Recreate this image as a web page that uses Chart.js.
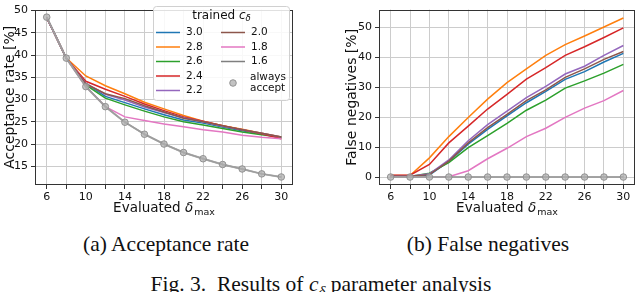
<!DOCTYPE html>
<html>
<head>
<meta charset="utf-8">
<script src="https://cdn.jsdelivr.net/npm/chart.js@4.4.1/dist/chart.umd.min.js"></script>
<style>
  body { margin: 0; background: #fff; }
  #wrap { position: relative; width: 640px; height: 292px; overflow: hidden; }
  canvas { position: absolute; top: 0; }
  .cap { position: absolute; font-family: "Liberation Serif", "Times New Roman", serif; font-size: 21.5px; color: #111; white-space: nowrap; transform: translateX(-50%); }
  sub { font-size: 70%; line-height: 0; }
</style>
</head>
<body>
<div id="wrap">
  <canvas id="acc" width="320" height="215" style="left:0"></canvas>
  <canvas id="fneg" width="320" height="215" style="left:320px"></canvas>
  <div class="cap" style="left:166px; top:232px">(a) Acceptance rate</div>
  <div class="cap" style="left:488px; top:232px">(b) False negatives</div>
  <div class="cap" style="left:321px; top:272px">Fig. 3.&nbsp; Results of <i>c</i><sub><i>δ</i></sub> parameter analysis</div>
</div>
<script>
const deltaMax = [6, 8, 10, 12, 14, 16, 18, 20, 22, 24, 26, 28, 30];
const cDelta = ['3.0', '2.8', '2.6', '2.4', '2.2', '2.0', '1.8', '1.6'];
const colors = ['#1f77b4', '#ff7f0e', '#2ca02c', '#d62728', '#9467bd', '#8c564b', '#e377c2', '#7f7f7f'];

// acceptance rate [%], one array per trained c_delta
const acc30 = [48.4, 39.3, 33.6, 30.7, 29.3, 27.9, 26.6, 25.4, 24.7, 23.8, 23.0, 22.3, 21.5];
const acc28 = [48.4, 39.3, 35.3, 33.1, 31.3, 29.4, 27.9, 26.4, 25.1, 24.1, 23.3, 22.4, 21.6];
const acc26 = [48.4, 39.3, 33.3, 30.3, 28.8, 27.4, 26.1, 25.0, 24.3, 23.5, 22.7, 22.1, 21.5];
const acc24 = [48.4, 39.3, 34.1, 32.3, 30.7, 29.0, 27.5, 26.1, 25.1, 24.1, 23.2, 22.3, 21.2];
const acc22 = [48.4, 39.3, 33.6, 31.2, 29.9, 28.3, 27.1, 25.9, 25.0, 24.0, 23.2, 22.4, 21.6];
const acc20 = [48.4, 39.3, 33.5, 31.3, 30.2, 28.6, 27.2, 25.8, 25.0, 24.1, 23.2, 22.4, 21.6];
const acc18 = [48.4, 39.3, 32.9, 28.4, 26.1, 25.3, 24.5, 23.9, 23.2, 22.7, 22.0, 21.5, 21.2];
const acc16 = [48.5, 39.3, 32.9, 28.4, 24.9, 22.2, 20.0, 18.1, 16.7, 15.4, 14.4, 13.3, 12.6];
const accAlways = [48.5, 39.3, 32.9, 28.4, 24.9, 22.2, 20.0, 18.1, 16.7, 15.4, 14.4, 13.3, 12.6];

// false negatives [%]
const fn30 = [0.2, 0.2, 0.7, 5.2, 11.0, 15.9, 20.4, 24.8, 28.6, 32.6, 35.2, 38.4, 41.3];
const fn28 = [0.5, 0.5, 6.4, 13.5, 19.9, 26.0, 31.5, 36.1, 40.6, 44.2, 47.1, 50.1, 53.1];
const fn26 = [0.2, 0.2, 1.3, 4.8, 9.8, 13.8, 17.9, 22.3, 25.7, 29.7, 32.1, 34.7, 37.6];
const fn24 = [0.6, 0.6, 4.2, 11.4, 17.0, 22.7, 27.6, 32.7, 36.5, 40.6, 43.5, 46.6, 49.8];
const fn22 = [0.3, 0.3, 1.1, 5.7, 12.1, 17.5, 22.0, 26.5, 30.3, 34.4, 37.0, 40.6, 43.9];
const fn20 = [0.3, 0.3, 0.8, 5.3, 11.4, 16.5, 20.9, 25.5, 29.1, 33.3, 36.1, 39.3, 41.9];
const fn18 = [0.0, 0.0, 0.0, 0.1, 2.1, 6.1, 9.6, 13.5, 16.3, 19.9, 23.0, 25.5, 28.9];
const fn16 = [0, 0, 0, 0, 0, 0, 0, 0, 0, 0, 0, 0, 0];
const fnAlways = [0, 0, 0, 0, 0, 0, 0, 0, 0, 0, 0, 0, 0];

const accTicks = [15, 20, 25, 30, 35, 40, 45, 50];
const fnTicks = [0, 10, 20, 30, 40, 50];
const xLabelTicks = [6, 10, 14, 18, 22, 26, 30];

const FONT = '"DejaVu Sans", sans-serif';

function makeDatasets(series, always) {
  const ds = series.map((vals, i) => ({
    label: cDelta[i],
    data: deltaMax.map((x, j) => ({ x: x, y: vals[j] })),
    borderColor: colors[i],
    backgroundColor: colors[i],
    borderWidth: 1.5,
    pointRadius: 0,
    order: -i
  }));
  ds.push({
    label: 'always\naccept',
    data: deltaMax.map((x, j) => ({ x: x, y: always[j] })),
    borderColor: 'rgba(165,165,165,0.8)',
    borderWidth: 2,
    pointRadius: 3.3,
    pointBackgroundColor: 'rgba(175,175,175,0.75)',
    pointBorderColor: 'rgba(140,140,140,0.9)',
    pointBorderWidth: 1,
    order: -20
  });
  return ds;
}

const frame = {
  id: 'frame',
  afterDraw(chart, args, opts) {
    const { ctx, chartArea: a } = chart;
    ctx.save();
    ctx.strokeStyle = '#333';
    ctx.lineWidth = 1;
    ctx.strokeRect(Math.round(a.left) + 0.5, Math.round(a.top) + 0.5,
      Math.round(a.right - a.left) - 1, Math.round(a.bottom - a.top) - 1);

    ctx.fillStyle = '#111';
    // x title: Evaluated delta_max
    const cx = (a.left + a.right) / 2;
    const ty = opts.xTitleY;
    ctx.textBaseline = 'alphabetic';
    ctx.font = '13.5px ' + FONT;
    const w1 = ctx.measureText('Evaluated ').width;
    ctx.font = 'italic 13.5px ' + FONT;
    const w2 = ctx.measureText('δ').width;
    ctx.font = '9.5px ' + FONT;
    const w3 = ctx.measureText('max').width;
    let x0 = cx - (w1 + w2 + w3 + 1) / 2;
    ctx.textAlign = 'left';
    ctx.font = '13.5px ' + FONT;
    ctx.fillText('Evaluated ', x0, ty);
    ctx.font = 'italic 13.5px ' + FONT;
    ctx.fillText('δ', x0 + w1, ty);
    ctx.font = '9.5px ' + FONT;
    ctx.fillText('max', x0 + w1 + w2 + 1, ty + 2.5);

    // y title
    ctx.save();
    ctx.translate(opts.yTitleX, (a.top + a.bottom) / 2);
    ctx.rotate(-Math.PI / 2);
    ctx.textAlign = 'center';
    ctx.textBaseline = 'middle';
    ctx.font = '14px ' + FONT;
    ctx.fillText(opts.yTitle, 0, 0);
    ctx.restore();
    ctx.restore();
  }
};

const legendBox = {
  id: 'legendBox',
  afterDraw(chart, args, opts) {
    if (!opts.show) return;
    const ctx = chart.ctx;
    const ds = chart.data.datasets;
    ctx.save();
    const bx = 153.5, by = 6.5, bw = 136, bh = 94;
    ctx.fillStyle = 'rgba(255,255,255,0.85)';
    ctx.strokeStyle = '#d0d0d0';
    ctx.lineWidth = 1;
    ctx.beginPath();
    ctx.roundRect(bx, by, bw, bh, 3);
    ctx.fill();
    ctx.stroke();

    ctx.fillStyle = '#111';
    ctx.textBaseline = 'middle';
    ctx.textAlign = 'left';
    ctx.font = '12px ' + FONT;
    const tw = ctx.measureText('trained ').width;
    ctx.font = 'italic 12px ' + FONT;
    const cw = ctx.measureText('c').width;
    ctx.font = 'italic 8.5px ' + FONT;
    const dw = ctx.measureText('δ').width;
    let tx = bx + bw / 2 - (tw + cw + dw) / 2;
    ctx.font = '12px ' + FONT;
    ctx.fillText('trained ', tx, 16);
    ctx.font = 'italic 12px ' + FONT;
    ctx.fillText('c', tx + tw, 16);
    ctx.font = 'italic 8.5px ' + FONT;
    ctx.fillText('δ', tx + tw + cw, 19);

    const rows = [32.5, 47, 61.5, 76, 90.5];
    ctx.font = '10.5px ' + FONT;
    ds.forEach((d, i) => {
      const col = i < 5 ? 0 : 1;
      const row = i < 5 ? i : i - 5;
      const lx = col === 0 ? 156 : 221;
      const y = rows[row];
      if (i < 8) {
        ctx.strokeStyle = d.borderColor;
        ctx.lineWidth = 1.5;
        ctx.beginPath();
        ctx.moveTo(lx, y);
        ctx.lineTo(lx + 24, y);
        ctx.stroke();
        ctx.fillStyle = '#111';
        ctx.fillText(d.label, lx + 30, y);
      } else {
        ctx.fillStyle = d.pointBackgroundColor;
        ctx.strokeStyle = d.pointBorderColor;
        ctx.lineWidth = 1;
        ctx.beginPath();
        ctx.arc(lx + 12, 83, 3.3, 0, Math.PI * 2);
        ctx.fill();
        ctx.stroke();
        ctx.fillStyle = '#111';
        d.label.split('\n').forEach((t, k) => ctx.fillText(t, lx + 29, 77 + k * 11.5));
      }
    });
    ctx.restore();
  }
};

function makeChart(id, datasets, cfg) {
  return new Chart(document.getElementById(id), {
    type: 'line',
    data: { datasets: datasets },
    options: {
      responsive: false,
      animation: false,
      layout: { padding: { left: 0, right: cfg.padRight, top: 3, bottom: 0 } },
      plugins: {
        legend: { display: false },
        tooltip: { enabled: false },
        frame: { xTitleY: 212, yTitleX: cfg.yTitleX, yTitle: cfg.yTitle },
        legendBox: { show: cfg.legend }
      },
      scales: {
        x: {
          type: 'linear',
          min: 4.8,
          max: 31.2,
          afterBuildTicks: s => { s.ticks = deltaMax.map(v => ({ value: v })); },
          afterFit: s => { s.height = 30; },
          grid: { color: '#cccccc', lineWidth: 1, tickLength: 4, tickColor: '#333' },
          border: { display: false },
          ticks: {
            color: '#111',
            padding: 2,
            maxRotation: 0,
            autoSkip: false,
            font: { family: FONT, size: 11 },
            callback: v => xLabelTicks.includes(v) ? String(v) : ''
          }
        },
        y: {
          min: cfg.yMin,
          max: cfg.yMax,
          afterBuildTicks: s => { s.ticks = cfg.yTicks.map(v => ({ value: v })); },
          afterFit: s => { s.width = cfg.yWidth; },
          grid: { color: '#cccccc', lineWidth: 1, tickLength: 4, tickColor: '#333' },
          border: { display: false },
          ticks: {
            color: '#111',
            padding: 3,
            font: { family: FONT, size: 11 }
          }
        }
      }
    },
    plugins: [frame, legendBox]
  });
}

makeChart('acc',
  makeDatasets([acc30, acc28, acc26, acc24, acc22, acc20, acc18, acc16], accAlways),
  { padRight: 27, yMin: 10.8, yMax: 50.2, yTicks: accTicks, yWidth: 35, yTitleX: 10, yTitle: 'Acceptance rate [%]', legend: true });

makeChart('fneg',
  makeDatasets([fn30, fn28, fn26, fn24, fn22, fn20, fn18, fn16], fnAlways),
  { padRight: 4, yMin: -2.66, yMax: 55.9, yTicks: fnTicks, yWidth: 59, yTitleX: 32, yTitle: 'False negatives [%]', legend: false });
</script>
</body>
</html>
